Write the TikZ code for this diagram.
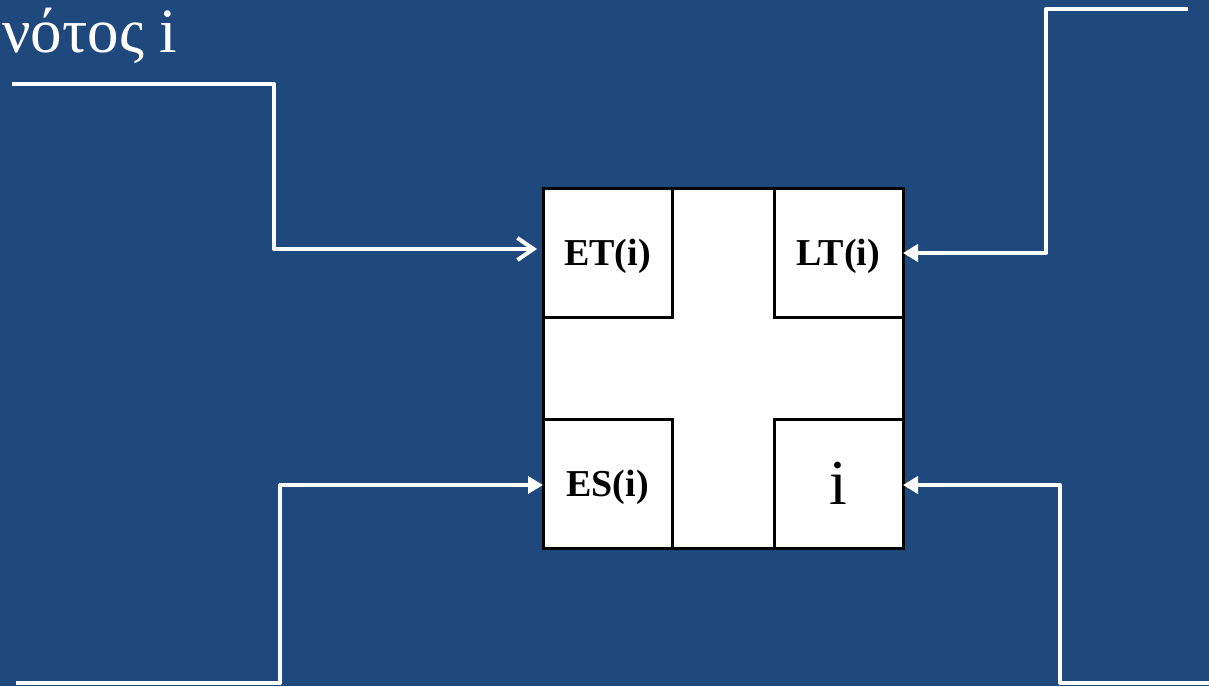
\documentclass[tikz,border=0pt]{standalone}
\usepackage{fontspec}
\setmainfont{Liberation Serif}
\usetikzlibrary{arrows.meta}
\definecolor{slideblue}{RGB}{31,73,125}
\begin{document}
\begin{tikzpicture}[x=0.5pt,y=-0.5pt,
    wire/.style={white,line width=2pt,line join=round},
    cell/.style={draw=black,line width=1.5pt,minimum size=64.5pt,inner sep=0pt,
      outer sep=0pt,text depth=0pt,font=\fontsize{19}{22}\selectfont\bfseries},
    opentip/.style={-{Straight Barb[length=8pt,width=11pt]}},
    filltip/.style={-{Triangle[length=7.5pt,width=8.5pt]}}]
  \useasboundingbox (0,0) rectangle (1209,686);
  \fill[slideblue] (0,0) rectangle (1209,686);
  \node[anchor=base west,inner sep=0pt,text=white,font=\fontsize{31.5}{36}\selectfont]
    (title) at (2,52) {νότος i};
  % the event box
  \node[draw=black,fill=white,line width=1.5pt,minimum size=180pt,inner sep=0pt,
    outer sep=0pt] (box) at (723,368) {};
  \node[cell,anchor=north west] (et) at (box.north west) {ET(i)};
  \node[cell,anchor=north east] (lt) at (box.north east) {LT(i)};
  \node[cell,anchor=south west] (es) at (box.south west) {ES(i)};
  \node[cell,anchor=south east,font=\fontsize{32}{36}\selectfont] (num) at (box.south east) {i};
  % incoming lines
  \coordinate (a0) at (12,84);
  \coordinate (a1) at (274,249);
  \coordinate (b0) at (1188,9);
  \coordinate (b1) at (1046,253);
  \coordinate (c0) at (16,683);
  \coordinate (c1) at (280,485);
  \coordinate (d0) at (1215,683);
  \coordinate (d1) at (1060,485);
  \draw[wire,opentip] (a0) -| (a1) -- ([xshift=-3pt]a1 -| box.west);
  \draw[wire,filltip] (b0) -| (b1) -- (b1 -| box.east);
  \draw[wire,filltip] (c0) -| (c1) -- (c1 -| box.west);
  \draw[wire,filltip] (d0) -| (d1) -- (d1 -| box.east);
\end{tikzpicture}
\end{document}
